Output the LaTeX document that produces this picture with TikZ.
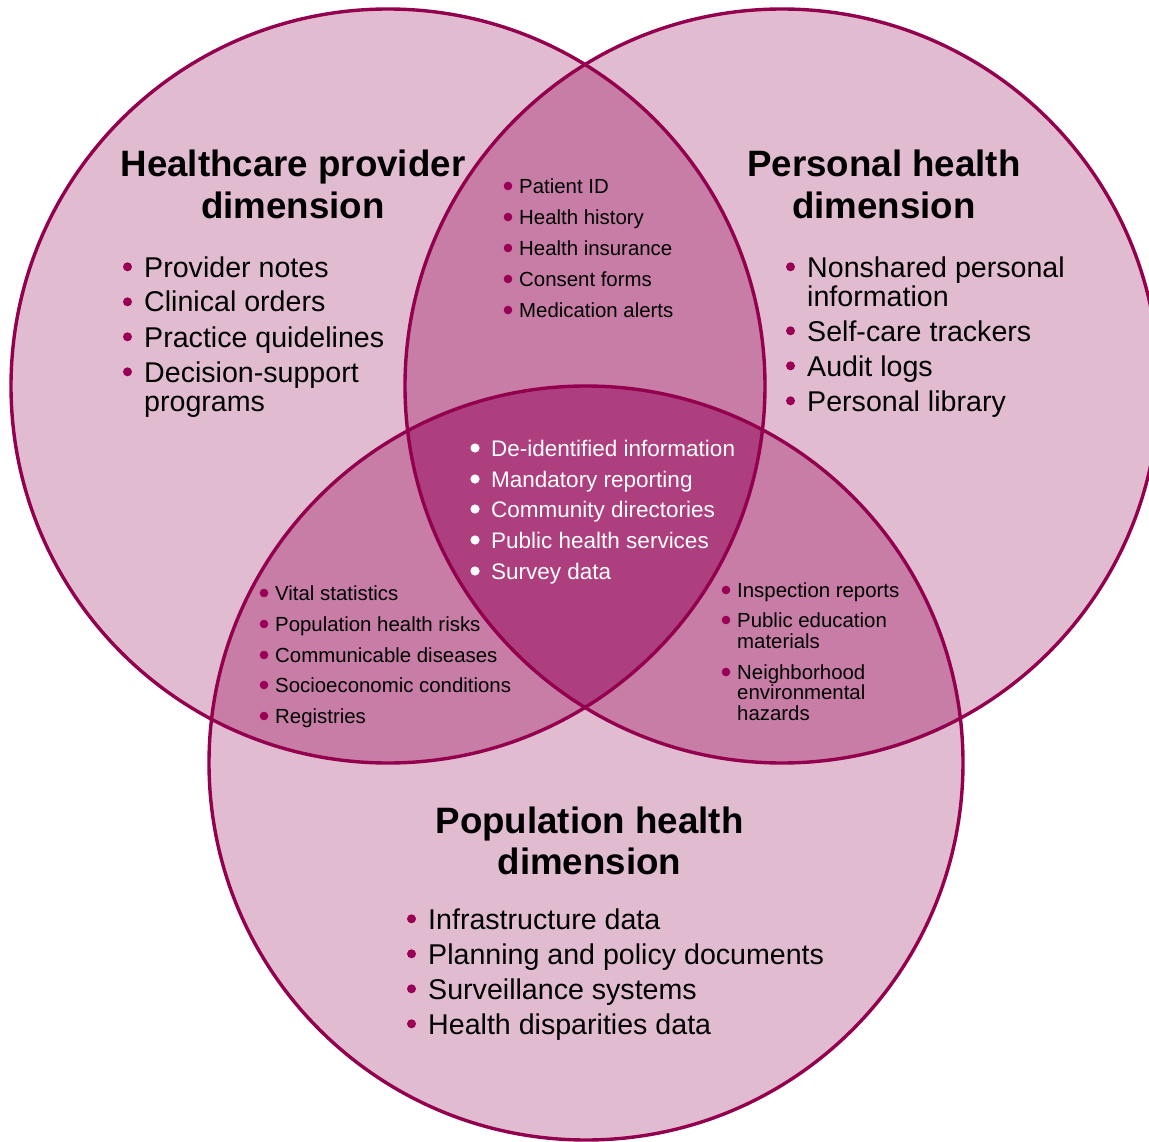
\documentclass[tikz,border=0pt]{standalone}
\usepackage{fontspec}
\setmainfont{Liberation Sans}
\definecolor{lightfill}{HTML}{E1BCD1}
\definecolor{midfill}{HTML}{C77DA6}
\definecolor{darkfill}{HTML}{AE3F7E}
\definecolor{edgecol}{HTML}{93004E}
\definecolor{bulletcol}{HTML}{990055}
\tikzset{
  ttl/.style={font=\fontsize{36.7}{42}\selectfont\bfseries, anchor=base, inner sep=0pt},
  bigitem/.style={font=\fontsize{28.6}{29}\selectfont, anchor=base west, inner sep=0pt},
  smallitem/.style={font=\fontsize{20.4}{21}\selectfont, anchor=base west, inner sep=0pt},
  miditem/.style={font=\fontsize{22.5}{23}\selectfont, anchor=base west, inner sep=0pt, text=white},
  ring/.style={draw=edgecol, line width=3.4pt},
}
\newcommand{\bigbul}[1]{\fill[bulletcol] (#1.base west) ++(-16.5,-10.2) circle[radius=4.5pt];}
\newcommand{\smlbul}[1]{\fill[bulletcol] (#1.base west) ++(-11,-7.3) circle[radius=4.3pt];}
\newcommand{\whtbul}[1]{\fill[white] (#1.base west) ++(-16,-8) circle[radius=4.6pt];}
\begin{document}
\begin{tikzpicture}[x=1pt,y=-1pt]
\useasboundingbox (0,0) rectangle (1149,1142);
\coordinate (A) at (388,386);
\coordinate (B) at (782,386);
\coordinate (C) at (586,763);
% fills
\fill[lightfill] (A) circle[radius=377pt];
\fill[lightfill] (B) circle[radius=377pt];
\fill[lightfill] (C) circle[radius=377pt];
\begin{scope}\clip (A) circle[radius=377pt]; \fill[midfill] (B) circle[radius=377pt];\end{scope}
\begin{scope}\clip (A) circle[radius=377pt]; \fill[midfill] (C) circle[radius=377pt];\end{scope}
\begin{scope}\clip (B) circle[radius=377pt]; \fill[midfill] (C) circle[radius=377pt];\end{scope}
\begin{scope}\clip (A) circle[radius=377pt]; \clip (B) circle[radius=377pt]; \fill[darkfill] (C) circle[radius=377pt];\end{scope}
% outlines
\draw[ring] (A) circle[radius=377pt];
\draw[ring] (B) circle[radius=377pt];
\draw[ring] (C) circle[radius=377pt];

% titles
\node[ttl] (tA1) at (293,177) {Healthcare provider};
\node[ttl] (tA2) at (293,219) {dimension};
\node[ttl] (tB1) at (884,177) {Personal health};
\node[ttl] (tB2) at (884,219) {dimension};
\node[ttl] (tC1) at (589.5,833) {Population health};
\node[ttl] (tC2) at (589.5,874) {dimension};

% healthcare provider list
\node[bigitem] (a1) at (144,277) {Provider notes};
\node[bigitem] (a2) at (144,312) {Clinical orders};
\node[bigitem] (a3) at (144,347) {Practice quidelines};
\node[bigitem] (a4) at (144,382) {Decision-support};
\node[bigitem] (a4b) at (144,411) {programs};
\bigbul{a1}\bigbul{a2}\bigbul{a3}\bigbul{a4}

% personal health list
\node[bigitem] (b1) at (807,277) {Nonshared personal};
\node[bigitem] (b1b) at (807,306) {information};
\node[bigitem] (b2) at (807,341) {Self-care trackers};
\node[bigitem] (b3) at (807,376) {Audit logs};
\node[bigitem] (b4) at (807,411) {Personal library};
\bigbul{b1}\bigbul{b2}\bigbul{b3}\bigbul{b4}

% population health list
\node[bigitem] (c1) at (428,929) {Infrastructure data};
\node[bigitem] (c2) at (428,964) {Planning and policy documents};
\node[bigitem] (c3) at (428,999) {Surveillance systems};
\node[bigitem] (c4) at (428,1034) {Health disparities data};
\bigbul{c1}\bigbul{c2}\bigbul{c3}\bigbul{c4}

% A & B
\node[smallitem] (ab1) at (519,193.3) {Patient ID};
\node[smallitem] (ab2) at (519,224.3) {Health history};
\node[smallitem] (ab3) at (519,255.3) {Health insurance};
\node[smallitem] (ab4) at (519,286.3) {Consent forms};
\node[smallitem] (ab5) at (519,317.3) {Medication alerts};
\smlbul{ab1}\smlbul{ab2}\smlbul{ab3}\smlbul{ab4}\smlbul{ab5}

% A & C
\node[smallitem] (ac1) at (275,600.3) {Vital statistics};
\node[smallitem] (ac2) at (275,631.3) {Population health risks};
\node[smallitem] (ac3) at (275,662.3) {Communicable diseases};
\node[smallitem] (ac4) at (275,692.3) {Socioeconomic conditions};
\node[smallitem] (ac5) at (275,723.3) {Registries};
\smlbul{ac1}\smlbul{ac2}\smlbul{ac3}\smlbul{ac4}\smlbul{ac5}

% B & C
\node[smallitem] (bc1) at (737,597.3) {Inspection reports};
\node[smallitem] (bc2) at (737,627.3) {Public education};
\node[smallitem] (bc2b) at (737,648.3) {materials};
\node[smallitem] (bc3) at (737,679.3) {Neighborhood};
\node[smallitem] (bc3b) at (737,699.5) {environmental};
\node[smallitem] (bc3c) at (737,720) {hazards};
\smlbul{bc1}\smlbul{bc2}\smlbul{bc3}

% centre
\node[miditem] (m1) at (491,456) {De-identified information};
\node[miditem] (m2) at (491,487) {Mandatory reporting};
\node[miditem] (m3) at (491,517) {Community directories};
\node[miditem] (m4) at (491,548) {Public health services};
\node[miditem] (m5) at (491,579) {Survey data};
\whtbul{m1}\whtbul{m2}\whtbul{m3}\whtbul{m4}\whtbul{m5}
\end{tikzpicture}
\end{document}
